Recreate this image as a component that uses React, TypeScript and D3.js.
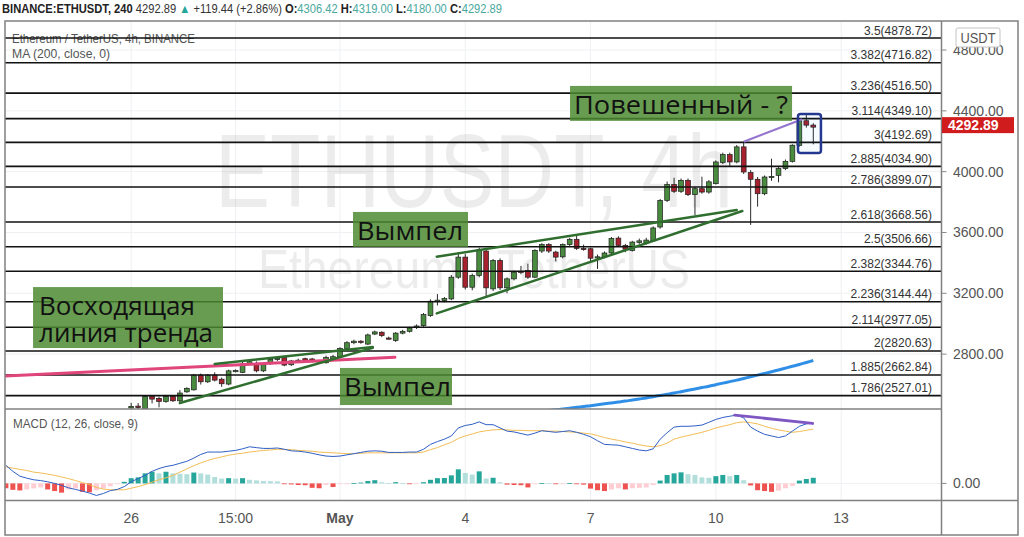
import React from "react";
import * as d3 from "d3";

const UI = "'Liberation Sans', Arial, sans-serif";
const NOTE_FONT = "'Open Sans', 'Noto Sans', sans-serif";
const CANDLE_MS = 4 * 3600 * 1000;

// ---- Candles (4h, UTC) ----
const candleStart = "2021-04-26T00:00:00Z";
const opens = [
  2446, 2458, 2440, 2522, 2509, 2489, 2522, 2493, 2552, 2565,
  2662, 2618, 2662, 2635, 2603, 2690, 2680, 2735, 2730, 2690,
  2737, 2765, 2779, 2730, 2750, 2770, 2768, 2756, 2743, 2770,
  2783, 2838, 2875, 2885, 2866, 2932, 2944, 2906, 2890, 2938,
  2950, 2975, 2987, 3053, 3150, 3152, 3163, 3306, 3438, 3240,
  3317, 3478, 3229, 3416, 3236, 3295, 3345, 3350, 3306, 3478,
  3521, 3471, 3440, 3520, 3555, 3495, 3493, 3432, 3440, 3465,
  3563, 3515, 3482, 3535, 3530, 3545, 3636, 3811, 3915, 3871,
  3943, 3849, 3888, 3866, 3921, 4060, 4112, 4064, 4163, 3994,
  3950, 3855, 3966, 3976, 4020, 4068, 4173, 4335, 4306.42,
];
const highs = [
  2480, 2478, 2530, 2531, 2520, 2532, 2530, 2563, 2582, 2670,
  2672, 2668, 2680, 2645, 2698, 2700, 2755, 2758, 2752, 2738,
  2772, 2780, 2790, 2762, 2770, 2776, 2775, 2762, 2790, 2795,
  2845, 2885, 2895, 2892, 2935, 2955, 2950, 2915, 2945, 2960,
  2980, 2995, 3070, 3160, 3195, 3175, 3320, 3470, 3460, 3330,
  3500, 3495, 3425, 3430, 3305, 3350, 3380, 3395, 3490, 3530,
  3530, 3480, 3528, 3565, 3585, 3520, 3500, 3455, 3475, 3570,
  3575, 3525, 3545, 3560, 3565, 3640, 3820, 3935, 3960, 3955,
  3955, 3900, 3967, 3945, 4075, 4125, 4125, 4175, 4198, 4010,
  3965, 3975, 4085, 4030, 4080, 4180, 4345, 4372, 4319,
];
const lows = [
  2420, 2430, 2420, 2476, 2450, 2480, 2485, 2485, 2545, 2560,
  2600, 2610, 2620, 2585, 2595, 2680, 2675, 2728, 2680, 2682,
  2730, 2755, 2720, 2722, 2745, 2748, 2745, 2740, 2738, 2762,
  2775, 2830, 2865, 2868, 2860, 2925, 2912, 2895, 2880, 2930,
  2942, 2965, 2980, 3045, 3120, 3140, 3155, 3295, 3225, 3220,
  3305, 3180, 3215, 3222, 3200, 3285, 3325, 3295, 3300, 3465,
  3465, 3410, 3430, 3510, 3485, 3480, 3405, 3360, 3430, 3455,
  3505, 3470, 3475, 3525, 3520, 3540, 3625, 3800, 3860, 3860,
  3840, 3715, 3855, 3855, 3915, 4050, 4035, 4055, 3985, 3650,
  3770, 3845, 3940, 3930, 4010, 4060, 4165, 4290, 4180,
];
const closes = [
  2456, 2448, 2522, 2504, 2489, 2522, 2493, 2544, 2575, 2662,
  2618, 2662, 2629, 2605, 2690, 2692, 2735, 2750, 2690, 2730,
  2765, 2772, 2728, 2755, 2760, 2755, 2752, 2748, 2779, 2783,
  2838, 2875, 2885, 2878, 2926, 2946, 2922, 2903, 2938, 2950,
  2972, 2985, 3060, 3148, 3155, 3165, 3306, 3438, 3240, 3317,
  3486, 3236, 3416, 3236, 3295, 3339, 3342, 3306, 3482, 3521,
  3478, 3438, 3520, 3555, 3495, 3492, 3431, 3440, 3465, 3560,
  3515, 3490, 3537, 3545, 3550, 3630, 3811, 3915, 3871, 3943,
  3849, 3888, 3866, 3933, 4064, 4112, 4064, 4163, 3998, 3950,
  3855, 3965, 3969, 4020, 4068, 4174, 4335, 4306, 4292.89,
];

// ---- MA (200) ----
const maStart = "2021-05-06T00:00:00Z";
const ma200 = [
  2429, 2434, 2439, 2444, 2450, 2455, 2461, 2467, 2473, 2479,
  2485, 2491, 2498, 2505, 2512, 2520, 2528, 2536, 2544, 2553,
  2562, 2571, 2580, 2589, 2599, 2609, 2619, 2629, 2640, 2651,
  2662, 2673, 2684, 2696, 2708, 2720, 2732, 2745, 2758,
];

// ---- MACD (12, 26, close, 9) ----
const macdStart = "2021-04-23T00:00:00Z";
const macdLine = [
  45, 30, 18, 13, 9, 7, 4, 0, -5, -11,
  -15, -19, -24, -30, -25, -18, -15, -8, 4, 12,
  20, 30, 37, 42, 45, 50, 55, 63, 72, 78,
  78, 78, 80, 82, 86, 91, 89, 87, 87, 88,
  85, 81, 80, 78, 75, 71, 68, 67, 68, 71,
  74, 77, 80, 81, 80, 77, 77, 77, 78, 78,
  85, 97, 104, 110, 118, 138, 144, 147, 153, 146,
  146, 138, 130, 128, 124, 120, 125, 131, 129, 127,
  129, 131, 127, 122, 116, 106, 97, 96, 95, 91,
  87, 83, 81, 86, 110, 126, 140, 142, 142, 143,
  145, 152, 159, 164, 167, 170, 163, 140, 130, 122,
  118, 114, 118, 130, 142, 148, 151,
];
const signalLine = [
  41, 38, 35, 32, 28, 26, 23, 20, 16, 12,
  7, 2, -3, -10, -14, -16, -16, -16, -12, -8,
  -3, 3, 9, 14, 20, 28, 36, 44, 51, 57,
  62, 66, 70, 73, 75, 78, 80, 82, 83, 85,
  84, 84, 82, 81, 80, 78, 77, 76, 75, 74,
  74, 75, 76, 76, 76, 76, 76, 76, 76, 76,
  78, 84, 89, 96, 102, 112, 118, 123, 128, 131,
  133, 134, 133, 132, 132, 131, 131, 131, 130, 130,
  129, 128, 127, 125, 123, 119, 114, 110, 107, 103,
  100, 96, 93, 91, 94, 100, 110, 115, 119, 123,
  127, 132, 138, 142, 146, 151, 153, 151, 148, 142,
  137, 133, 130, 127, 129, 132, 135,
];
const histogram = [
  -12, -16, -17.5, -15, -12.5, -10, -15, -19, -23, -15,
  -12.5, -21, -22, -17, -12.5, -7, -2, 4, 13, 15,
  25, 29, 25, 29, 25, 24, 23, 27, 25, 22,
  16, 12, 13, 12, 13, 9, 7.5, 6, 5.5, 5,
  -2, -2.5, -4, -4.5, -11, -12, -4, -9, -2, -1,
  1, 2, 6, 8, 3, 1, 3, 0.5, -1, -0.5,
  3, 9, 13, 13.5, 20, 35, 26, 22, 30, 12,
  14, 3, -3, -4, -4.5, -10, -2, 1, 0.5, -2,
  -1, 1, -2, -3, -13, -17, -19, -15, -12, -15,
  -12, -11, -10, -4, 7, 21, 25, 27.5, 23, 21,
  15, 14, 18, 21, 18, 21, 8, -5, -17, -19,
  -21, -18, -12, -6, 7, 11, 14,
];

// ---- Fibonacci extension levels ----
const fibRatios = ["3.5", "3.382", "3.236", "3.114", "3", "2.885", "2.786", "2.618", "2.5", "2.382", "2.236", "2.114", "2", "1.885", "1.786"];
const fibPrices = [4878.72, 4716.82, 4516.5, 4349.1, 4192.69, 4034.9, 3899.07, 3668.56, 3506.66, 3344.76, 3144.44, 2977.05, 2820.63, 2662.84, 2527.01];

// ---- Axes ----
const priceTicks = [4800, 4400, 4000, 3600, 3200, 2800];
const timeTicks = ["2021-04-26T00:00:00Z", "2021-04-28T12:00:00Z", "2021-05-01T00:00:00Z", "2021-05-04T00:00:00Z", "2021-05-07T00:00:00Z", "2021-05-10T00:00:00Z", "2021-05-13T00:00:00Z"];
const timeTickLabels = ["26", "15:00", "May", "4", "7", "10", "13"];
const macdTicks = [0];

// ---- Drawings (time, value) ----
const pinkLinePts: [string, number][] = [["2021-04-22T23:30:00Z", 2656], ["2021-05-02T07:36:00Z", 2779]];
const pennantLowUpper: [string, number][] = [["2021-04-28T00:00:00Z", 2735], ["2021-05-01T18:48:00Z", 2847]];
const pennantLowLower: [string, number][] = [["2021-04-27T04:00:00Z", 2478], ["2021-05-01T18:48:00Z", 2841]];
const pennantHighUpper: [string, number][] = [["2021-05-03T07:36:00Z", 3441], ["2021-05-10T12:00:00Z", 3748]];
const pennantHighLower: [string, number][] = [["2021-05-03T07:36:00Z", 3068], ["2021-05-10T15:12:00Z", 3741]];
const purplePriceLine: [string, number][] = [["2021-05-10T16:00:00Z", 4197], ["2021-05-12T01:36:00Z", 4345]];
const purpleMacdLine: [string, number][] = [["2021-05-10T10:48:00Z", 170], ["2021-05-12T07:36:00Z", 149]];
const highlightBox: [string, number][] = [["2021-05-11T23:12:00Z", 4380], ["2021-05-12T12:24:00Z", 4123]];

const noteTexts = [["Повешенный - ?"], ["Вымпел"], ["Восходящая", "линия тренда"], ["Вымпел"]];
const noteCorners: [string, number, string, number][] = [
  ["2021-05-06T12:12:00Z", 4564, "2021-05-11T19:48:00Z", 4334],
  ["2021-05-01T07:29:00Z", 3735, "2021-05-04T01:34:00Z", 3505],
  ["2021-04-23T15:36:00Z", 3241, "2021-04-28T04:46:00Z", 2840],
  ["2021-05-01T00:00:00Z", 2709, "2021-05-03T16:22:00Z", 2465],
];
const noteTextWidths = [[214], [106], [156, 174], [107]];

// header values
const headerSymbol = "BINANCE:ETHUSDT, 240";
const headerChange = 119.44;
const headerChangePct = 2.86;

export default function App() {
  const L = 5, R = 941.5, T = 21, PB = 409, MB = 500.5, B = 535, RR = 1018;
  const x = d3.scaleUtc()
    .domain([new Date("2021-04-22T23:29:00Z"), new Date("2021-05-15T09:41:00Z")])
    .range([L, R]);
  const y = d3.scaleLinear().domain([2439, 4991]).range([PB, T]);
  const ym = d3.scaleLinear().domain([-42.5, 185]).range([MB, PB]);
  const f2 = d3.format(".2f");

  const c0 = Date.parse(candleStart);
  const candles = opens.map((o, i) => ({
    t: new Date(c0 + i * CANDLE_MS), o, h: highs[i], l: lows[i], c: closes[i],
  }));
  const m0 = Date.parse(macdStart);
  const mt = (i: number) => new Date(m0 + i * CANDLE_MS);
  const a0 = Date.parse(maStart);

  const macdPath = d3.line<number>().x((_, i) => x(mt(i))).y((v) => ym(v))(macdLine) || "";
  const signalPath = d3.line<number>().x((_, i) => x(mt(i))).y((v) => ym(v))(signalLine) || "";
  const maPath = d3.line<number>().x((_, i) => x(new Date(a0 + i * CANDLE_MS))).y((v) => y(v)).curve(d3.curveMonotoneX)(ma200) || "";

  const seg = (pts: [string, number][], sy: (v: number) => number) => ({
    x1: x(new Date(pts[0][0])), y1: sy(pts[0][1]), x2: x(new Date(pts[1][0])), y2: sy(pts[1][1]),
  });

  const histColor = (i: number) => {
    const v = histogram[i];
    const prev = i > 0 ? histogram[i - 1] : v;
    if (v >= 0) return v >= prev ? "#26a69a" : "#b2dfdb";
    return v <= prev ? "#ef5350" : "#ffcdd2";
  };

  const last = candles[candles.length - 1];
  const lastY = y(last.c);
  const GREEN = "#4a8c3f";
  const RED = "#a8212e";

  const hb = seg(highlightBox, y);

  return (
    <div style={{ position: "absolute", left: 0, top: 0, width: 1024, height: 537, background: "#fff" }}>
      <svg width={1024} height={537} style={{ display: "block" }}>
        <defs>
          <clipPath id="mainClip"><rect x={L} y={T} width={R - L} height={PB - T} /></clipPath>
          <clipPath id="macdClip"><rect x={L} y={PB} width={R - L} height={MB - PB} /></clipPath>
        </defs>
        <rect x={0} y={0} width={1024} height={537} fill="#fff" />

        {/* header */}
        <text x={2} y={13} fontSize={12.5} fontFamily={UI} textLength={500} lengthAdjust="spacingAndGlyphs">
          <tspan fontWeight="bold" fill="#222">{headerSymbol} </tspan>
          <tspan fill="#333">{f2(last.c)} </tspan>
          <tspan fill="#26a69a">▲</tspan>
          <tspan fill="#333"> +{f2(headerChange)} (+{f2(headerChangePct)}%) </tspan>
          <tspan fontWeight="bold" fill="#222">O:</tspan><tspan fill="#4aa99e">{f2(last.o)} </tspan>
          <tspan fontWeight="bold" fill="#222">H:</tspan><tspan fill="#4aa99e">{f2(last.h)} </tspan>
          <tspan fontWeight="bold" fill="#222">L:</tspan><tspan fill="#4aa99e">{f2(last.l)} </tspan>
          <tspan fontWeight="bold" fill="#222">C:</tspan><tspan fill="#4aa99e">{f2(last.c)}</tspan>
        </text>

        {/* grid */}
        <g stroke="#eef0f3" strokeWidth={1}>
          {priceTicks.map((p) => <line key={"hp" + p} x1={L} x2={R} y1={y(p)} y2={y(p)} />)}
          {timeTicks.map((t) => <line key={"vt" + t} x1={x(new Date(t))} x2={x(new Date(t))} y1={T} y2={MB} />)}
          {macdTicks.map((v) => <line key={"hm" + v} x1={L} x2={R} y1={ym(v)} y2={ym(v)} />)}
        </g>

        {/* watermark */}
        <text x={215} y={207} fontSize={104} fontFamily={UI} fill="#000" fillOpacity={0.075} textLength={518} lengthAdjust="spacingAndGlyphs">ETHUSDT, 4h</text>
        <text x={258} y={288} fontSize={56} fontFamily={UI} fill="#000" fillOpacity={0.075} textLength={432} lengthAdjust="spacingAndGlyphs">Ethereum / TetherUS</text>

        {/* legends */}
        <text x={12} y={43} fontSize={12} fontFamily={UI} fill="#555" textLength={183} lengthAdjust="spacingAndGlyphs">Ethereum / TetherUS, 4h, BINANCE</text>
        <text x={12} y={58} fontSize={12} fontFamily={UI} fill="#555" textLength={98} lengthAdjust="spacingAndGlyphs">MA (200, close, 0)</text>

        {/* price pane */}
        <g clipPath="url(#mainClip)">
          <path d={maPath} fill="none" stroke="#2f8fe6" strokeWidth={3} />
          {candles.map((c, i) => {
            const cx = x(c.t);
            const up = c.c >= c.o;
            const top = y(Math.max(c.o, c.c));
            const bot = y(Math.min(c.o, c.c));
            return (
              <g key={"c" + i}>
                <line x1={cx} x2={cx} y1={y(c.h)} y2={y(c.l)} stroke="#2b2b2b" strokeWidth={1} />
                <rect x={cx - 2.4} y={top} width={4.8} height={Math.max(1.2, bot - top)} fill={up ? GREEN : RED} stroke="#1e1e1e" strokeWidth={0.7} />
              </g>
            );
          })}

          {/* fib levels */}
          {fibPrices.map((p, i) => (
            <g key={"fib" + i}>
              <line x1={L} x2={R} y1={y(p)} y2={y(p)} stroke="#111" strokeWidth={1.6} />
              <text x={932} y={y(p) - 3.5} fontSize={12} fontFamily={UI} fill="#333" textAnchor="end">{fibRatios[i]}({f2(p)})</text>
            </g>
          ))}

          {/* drawings */}
          <line {...seg(pinkLinePts, y)} stroke="#e0457b" strokeWidth={3} strokeLinecap="round" />
          {[pennantLowUpper, pennantLowLower, pennantHighUpper, pennantHighLower].map((pts, i) => (
            <line key={"pn" + i} {...seg(pts, y)} stroke="#2f6e2f" strokeWidth={2.5} strokeLinecap="round" />
          ))}
          <line {...seg(purplePriceLine, y)} stroke="#9575cd" strokeWidth={2.2} />
          <rect x={hb.x1} y={hb.y1} width={hb.x2 - hb.x1} height={hb.y2 - hb.y1} rx={2.5} fill="#2196f3" fillOpacity={0.04} stroke="#24388f" strokeWidth={2.5} />

          {/* notes */}
          {noteCorners.map((nc, i) => {
            const x0 = x(new Date(nc[0])), y0 = y(nc[1]), x1 = x(new Date(nc[2])), y1 = y(nc[3]);
            const lines = noteTexts[i];
            const pad = lines.length > 1 ? 6 : 4;
            return (
              <g key={"n" + i}>
                <rect x={x0} y={y0} width={x1 - x0} height={y1 - y0} fill="#4b8a30" fillOpacity={0.84} />
                {lines.map((s, j) => (
                  <text key={j} x={x0 + pad} y={y0 + 28 + j * 26.5} fontSize={26} fontFamily={NOTE_FONT} fill="#111" textLength={noteTextWidths[i][j]} lengthAdjust="spacingAndGlyphs">{s}</text>
                ))}
              </g>
            );
          })}
        </g>

        {/* MACD pane */}
        <g clipPath="url(#macdClip)">
          {histogram.map((v, i) => {
            const cx = x(mt(i));
            const y0 = ym(0), y1 = ym(v);
            return <rect key={"h" + i} x={cx - 2.5} y={Math.min(y0, y1)} width={5} height={Math.max(0.8, Math.abs(y1 - y0))} fill={histColor(i)} />;
          })}
          <path d={signalPath} fill="none" stroke="#f2bd55" strokeWidth={1} />
          <path d={macdPath} fill="none" stroke="#2f5fc4" strokeWidth={1} />
          <line {...seg(purpleMacdLine, ym)} stroke="#7e57c2" strokeWidth={2.8} strokeLinecap="round" />
        </g>
        <text x={13} y={428} fontSize={12.5} fontFamily={UI} fill="#555" textLength={125} lengthAdjust="spacingAndGlyphs">MACD (12, 26, close, 9)</text>

        {/* frame */}
        <g stroke="#808080" strokeWidth={1.5} fill="none">
          <rect x={L} y={T} width={RR - L} height={B - T} />
          <line x1={L} x2={R} y1={PB} y2={PB} />
          <line x1={L} x2={RR} y1={MB} y2={MB} />
          <line x1={R} x2={R} y1={T} y2={B} />
        </g>

        {/* price axis */}
        {priceTicks.map((p) => (
          <g key={"pt" + p}>
            <line x1={R} x2={R + 5} y1={y(p)} y2={y(p)} stroke="#888" strokeWidth={1} />
            <text x={953} y={y(p) + 5} fontSize={14} fontFamily={UI} fill="#555">{f2(p)}</text>
          </g>
        ))}
        {macdTicks.map((v) => (
          <g key={"mt" + v}>
            <line x1={R} x2={R + 5} y1={ym(v)} y2={ym(v)} stroke="#888" strokeWidth={1} />
            <text x={953} y={ym(v) + 5} fontSize={14} fontFamily={UI} fill="#555">{f2(v)}</text>
          </g>
        ))}
        <rect x={956} y={28} width={44} height={19} rx={2} fill="#fff" stroke="#c4c4c4" strokeWidth={1} />
        <text x={978} y={43} fontSize={14} fontFamily={UI} fill="#555" textAnchor="middle" textLength={35} lengthAdjust="spacingAndGlyphs">USDT</text>
        <rect x={R + 0.5} y={lastY - 10} width={72} height={16} fill="#d01c1c" />
        <text x={948} y={lastY + 3} fontSize={14} fontWeight="bold" fontFamily={UI} fill="#fff">{f2(last.c)}</text>

        {/* time axis */}
        {timeTicks.map((t, i) => (
          <text key={"tl" + t} x={x(new Date(t))} y={523} fontSize={14} fontFamily={UI} fill="#555" textAnchor="middle" fontWeight={timeTickLabels[i] === "May" ? "bold" : "normal"}>{timeTickLabels[i]}</text>
        ))}
      </svg>
    </div>
  );
}
